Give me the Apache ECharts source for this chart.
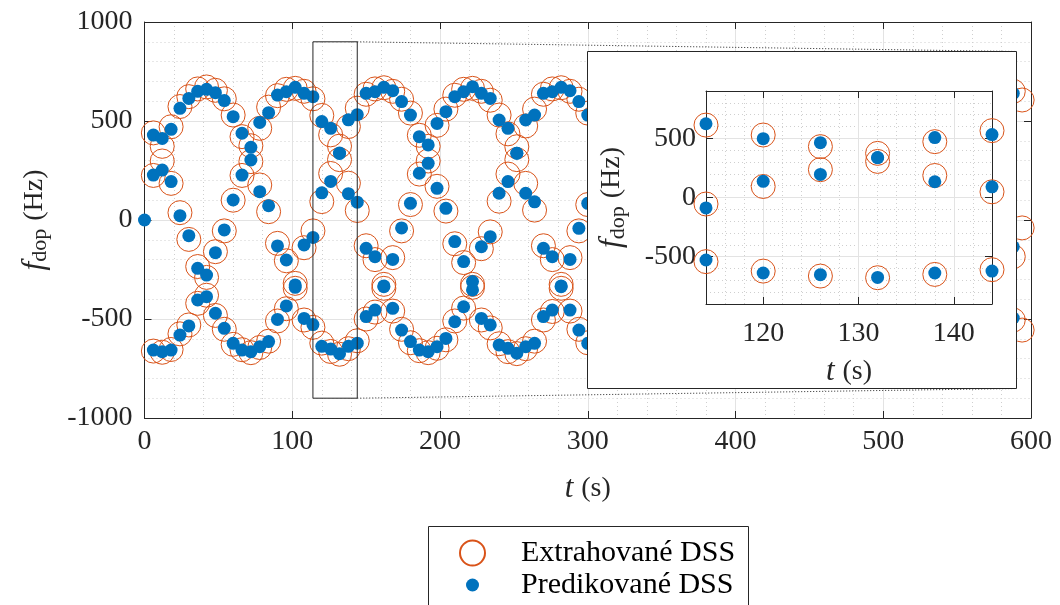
<!DOCTYPE html>
<html>
<head>
<meta charset="utf-8">
<script src="https://cdn.jsdelivr.net/npm/echarts@6/dist/echarts.min.js"></script>
<style>
  html, body { margin: 0; padding: 0; background: #ffffff; }
  #chart { width: 1060px; height: 605px; }
</style>
</head>
<body>
<div id="chart"></div>
<script>
// Sample times (s) of the Doppler spectral-line tracks
const timeSteps = [6, 12, 18, 24, 30, 36, 42, 48, 54, 60,
  66, 72, 78, 84, 90, 96, 102, 108, 114, 120,
  126, 132, 138, 144, 150, 156, 162, 168, 174, 180,
  186, 192, 198, 204, 210, 216, 222, 228, 234, 240,
  246, 252, 258, 264, 270, 276, 282, 288, 294, 300,
  588, 594];

// Predicted Doppler shifts (Hz), three components per time step
const predUpper = [429, 412, 458, 564, 614, 650, 660, 643, 603, 522,
  438, 367, 493, 542, 631, 648, 670, 640, 623, 497,
  463, 338, 506, 532, 640, 648, 670, 653, 598, 530,
  421, 379, 488, 547, 623, 648, 673, 640, 614, 505,
  463, 337, 505, 530, 640, 648, 670, 653, 598, 530,
  640, null];
const predMiddle = [227, 252, 194, 22, -79, -244, -278, -165, -50, 101,
  227, 303, 143, 72, -131, -202, -328, -126, -88, 137,
  195, 336, 133, 90, -143, -185, -333, -199, -40, 84,
  236, 286, 160, 59, -109, -210, -311, -135, -84, 135,
  194, 337, 135, 92, -143, -185, -333, -199, -42, 84,
  -135, null];
const predLower = [-657, -665, -657, -581, -535, -404, -387, -471, -547, -623,
  -657, -665, -640, -614, -502, -434, -340, -497, -528, -638,
  -652, -675, -638, -622, -488, -455, -337, -446, -556, -614,
  -657, -665, -640, -598, -514, -438, -353, -497, -530, -631,
  -648, -673, -640, -623, -488, -455, -337, -455, -556, -623,
  -495, null];
// Isolated predicted point at the start of the record
const predStart = [0, 0];

// Extracted Doppler shifts (Hz)
const extUpper = [440, 372, 471, 573, 623, 662, 672, 655, 612, 530,
  421, 375, 463, 570, 628, 660, 665, 650, 612, 528,
  430, 373, 472, 565, 635, 662, 668, 650, 610, 540,
  428, 372, 478, 560, 630, 660, 665, 650, 605, 530,
  435, 370, 475, 560, 635, 662, 668, 650, 610, 540,
  650, 606];
const extMiddle = [225, 298, 185, 37, -98, -235, -290, -160, -55, 100,
  225, 295, 177, 42, -118, -206, -320, -140, -55, 93,
  235, 305, 186, 48, -130, -200, -325, -190, -55, 78,
  232, 298, 170, 45, -120, -215, -325, -145, -60, 95,
  232, 305, 185, 50, -130, -200, -325, -190, -55, 78,
  -185, -40];
const extLower = [-662, -668, -654, -575, -530, -421, -380, -482, -552, -628,
  -655, -670, -644, -612, -510, -448, -345, -505, -542, -622,
  -664, -678, -650, -610, -500, -465, -345, -460, -552, -620,
  -660, -670, -648, -605, -510, -445, -340, -505, -545, -625,
  -665, -675, -650, -612, -505, -462, -345, -460, -552, -620,
  -505, -556];

// Axis ranges and ticks
const mainT = [0, 600], mainTStep = 100;
const mainF = [-1000, 1000], mainFStep = 500;
const zoomT = [114, 144], zoomTStep = 10;
const zoomF = [-900, 900], zoomFStep = 500;

const SERIF = 'Liberation Serif';
const ORANGE = '#D95319';
const BLUE = '#0072BD';
const INK = '#262626';

function toPoints(values) {
  const out = [];
  values.forEach(function (v, i) { if (v !== null) out.push([timeSteps[i], v]); });
  return out;
}
const extPoints = [].concat(toPoints(extUpper), toPoints(extMiddle), toPoints(extLower));
const predPoints = [predStart].concat(toPoints(predUpper), toPoints(predMiddle), toPoints(predLower));
const zoomBox = [[zoomT[0], zoomF[0]], [zoomT[1], zoomF[0]], [zoomT[1], zoomF[1]],
                 [zoomT[0], zoomF[1]], [zoomT[0], zoomF[0]]];

const tickLabel = { fontFamily: SERIF, fontSize: 28, color: INK, formatter: function (v) { return String(v); } };
const nameRich = {
  it: { fontFamily: SERIF, fontSize: 31, fontStyle: 'italic', color: INK },
  sub: { fontFamily: SERIF, fontSize: 22, color: INK, verticalAlign: 'bottom', padding: [12, 0, 0, 0] },
  rm: { fontFamily: SERIF, fontSize: 28, color: INK },
  gap: { fontFamily: SERIF, fontSize: 28, width: 8 }
};

function axis(kind, cfg) {
  const main = cfg.labels;
  const a = {
    type: 'value', gridIndex: cfg.grid, position: cfg.position,
    min: cfg.range[0], max: cfg.range[1],
    zlevel: cfg.zlevel || 0, z: cfg.z || 0,
    axisLine: { show: true, onZero: false, lineStyle: { color: INK, width: 1 } },
    axisTick: { show: true, inside: true, length: 7, lineStyle: { color: INK, width: 1 } },
    minorTick: { show: false, splitNumber: 5 },
    axisLabel: Object.assign({ show: main, margin: cfg.margin || 10, showMinLabel: cfg.edgeLabels, showMaxLabel: cfg.edgeLabels }, tickLabel),
    splitLine: { show: main, lineStyle: { color: '#e3e3e3', width: 1 } },
    minorSplitLine: { show: main, lineStyle: { color: '#cfcfcf', width: 1, type: [1, 3] } }
  };
  if (cfg.step !== undefined) {
    if (cfg.range[0] % cfg.step === 0) a.interval = cfg.step;
    else { a.minInterval = cfg.step; a.maxInterval = cfg.step; a.splitNumber = 3; }
  }
  if (cfg.name) {
    a.name = cfg.name; a.nameLocation = 'middle'; a.nameGap = cfg.nameGap;
    a.nameTextStyle = { rich: nameRich };
    if (kind === 'y') a.nameRotate = 90;
  }
  return a;
}

const tName = '{it|t}{gap|}{rm|(s)}';
const fName = '{it|f}{sub|dop}{gap|}{rm|(Hz)}';

const chart = echarts.init(document.getElementById('chart'), null, { renderer: 'canvas' });

const option = {
  backgroundColor: '#ffffff',
  animation: false,
  grid: [
    { left: 144.5, top: 22, width: 886.5, height: 396, containLabel: false },
    { left: 706, top: 91, width: 286, height: 213, containLabel: false, zlevel: 1, z: 4, show: true, backgroundColor: '#ffffff', borderWidth: 0 }
  ],
  xAxis: [
    axis('x', { grid: 0, position: 'bottom', range: mainT, step: mainTStep, labels: true, edgeLabels: true, margin: 10, name: tName, nameGap: 55 }),
    axis('x', { grid: 0, position: 'top', range: mainT, step: mainTStep, labels: false }),
    axis('x', { grid: 1, position: 'bottom', range: zoomT, step: zoomTStep, labels: true, edgeLabels: false, margin: 16, name: tName, nameGap: 52, zlevel: 1, z: 6 }),
    axis('x', { grid: 1, position: 'top', range: zoomT, step: zoomTStep, labels: false, zlevel: 1, z: 6 })
  ],
  yAxis: [
    axis('y', { grid: 0, position: 'left', range: mainF, step: mainFStep, labels: true, edgeLabels: true, margin: 12, name: fName, nameGap: 93 }),
    axis('y', { grid: 0, position: 'right', range: mainF, step: mainFStep, labels: false }),
    axis('y', { grid: 1, position: 'left', range: zoomF, step: zoomFStep, labels: true, edgeLabels: false, margin: 10, name: fName, nameGap: 77, zlevel: 1, z: 6 }),
    axis('y', { grid: 1, position: 'right', range: zoomF, step: zoomFStep, labels: false, zlevel: 1, z: 6 })
  ],
  legend: [
    {
      data: ['Extrahované DSS'], left: 454, top: 533, padding: 5,
      icon: 'circle', itemWidth: 25, itemHeight: 25,
      textStyle: { fontFamily: SERIF, fontSize: 30, color: '#000', padding: [0, 0, 0, 31] }
    },
    {
      data: ['Predikované DSS'], left: 461, top: 565, padding: 5,
      icon: 'circle', itemWidth: 13, itemHeight: 13,
      textStyle: { fontFamily: SERIF, fontSize: 30, color: '#000', padding: [0, 0, 0, 37] }
    }
  ],
  series: [
    {
      name: 'Extrahované DSS', type: 'scatter', xAxisIndex: 0, yAxisIndex: 0,
      data: extPoints, symbol: 'circle', symbolSize: 24, z: 2,
      itemStyle: { color: 'rgba(0,0,0,0)', borderColor: ORANGE, borderWidth: 1, opacity: 1 },
      emphasis: { disabled: true }
    },
    {
      name: 'Predikované DSS', type: 'scatter', xAxisIndex: 0, yAxisIndex: 0,
      data: predPoints, symbol: 'circle', symbolSize: 13, z: 3,
      itemStyle: { color: BLUE, opacity: 1 }, emphasis: { disabled: true }
    },
    {
      type: 'line', xAxisIndex: 0, yAxisIndex: 0, data: zoomBox, symbol: 'none', z: 4,
      lineStyle: { color: INK, width: 1 }, silent: true
    },
    {
      name: 'Extrahované DSS', type: 'scatter', xAxisIndex: 2, yAxisIndex: 2,
      data: extPoints, symbol: 'circle', symbolSize: 24, zlevel: 1, z: 10,
      itemStyle: { color: 'rgba(0,0,0,0)', borderColor: ORANGE, borderWidth: 1, opacity: 1 },
      emphasis: { disabled: true }
    },
    {
      name: 'Predikované DSS', type: 'scatter', xAxisIndex: 2, yAxisIndex: 2,
      data: predPoints, symbol: 'circle', symbolSize: 13, zlevel: 1, z: 11,
      itemStyle: { color: BLUE, opacity: 1 }, emphasis: { disabled: true }
    }
  ],
  graphic: [
    {
      id: 'insetPanel', type: 'rect', zlevel: 1, z: 1, silent: true,
      shape: { x: 587.5, y: 51.5, width: 429, height: 337 },
      style: { fill: '#ffffff', stroke: INK, lineWidth: 1 }
    },
    {
      id: 'legendFrame', type: 'rect', z: 1, silent: true,
      shape: { x: 428.5, y: 526.5, width: 320, height: 110 },
      style: { fill: 'none', stroke: INK, lineWidth: 1 }
    }
  ]
};

chart.setOption(option);

// Dotted connectors from the zoom box to the inset panel's right corners
const boxTop = chart.convertToPixel({ gridIndex: 0 }, [zoomT[1], zoomF[1]]);
const boxBottom = chart.convertToPixel({ gridIndex: 0 }, [zoomT[1], zoomF[0]]);
const panel = option.graphic[0].shape;
chart.setOption({
  graphic: [
    {
      id: 'connectTop', type: 'line', z: 5, silent: true,
      shape: { x1: boxTop[0], y1: boxTop[1], x2: panel.x + panel.width, y2: panel.y },
      style: { stroke: INK, lineWidth: 1, lineDash: [1, 2] }
    },
    {
      id: 'connectBottom', type: 'line', z: 5, silent: true,
      shape: { x1: boxBottom[0], y1: boxBottom[1], x2: panel.x + panel.width, y2: panel.y + panel.height },
      style: { stroke: INK, lineWidth: 1, lineDash: [1, 2] }
    }
  ]
});
</script>
</body>
</html>
